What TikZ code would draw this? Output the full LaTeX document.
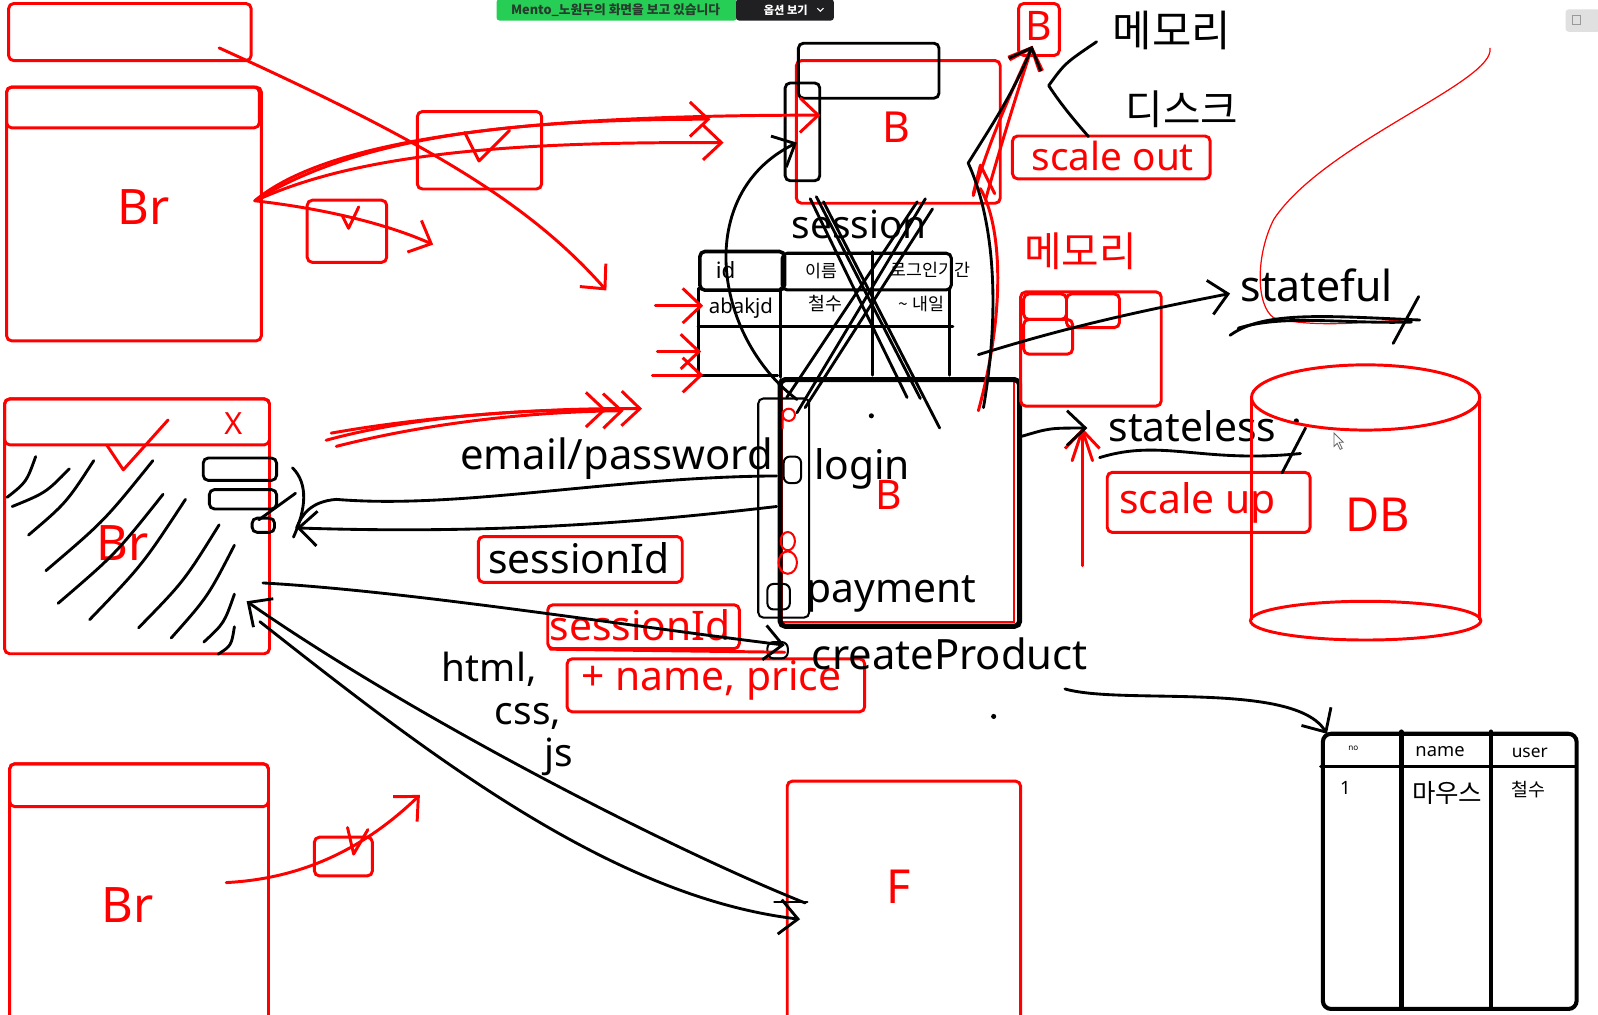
\documentclass[tikz,border=0pt]{standalone}
\usepackage{fontspec}
\setmainfont{Noto Sans}
\newfontfamily\kr{Noto Sans CJK KR}
\usetikzlibrary{arrows.meta,calc}
\newcommand\fsz[1]{\fontsize{#1}{#1}\selectfont}
\definecolor{zgreen}{RGB}{38,206,86}
\definecolor{zdark}{RGB}{32,32,34}
\tikzset{
 rb/.style={draw=red,line width=2.9pt,rounded corners=5pt,anchor=north west,inner sep=0pt},
 bb/.style={draw=black,line width=2.8pt,rounded corners=5pt,anchor=north west,inner sep=0pt},
 rpen/.style={draw=red,line width=2.9pt,line cap=round,line join=round},
 bpen/.style={draw=black,line width=2.8pt,line cap=round,line join=round},
 tip/.style={-{Straight Barb[length=18pt,width=34pt]}},
 rtxt/.style={text=red,inner sep=0pt},
 btxt/.style={text=black,inner sep=0pt},
}
\begin{document}
\begin{tikzpicture}[x=1pt,y=-1pt]
\useasboundingbox (0,0) rectangle (1568,995);
\clip (0,0) rectangle (1568,995);
\fill[white] (0,0) rectangle (1568,995);

% ---------- banner ----------
\node (ban) [fill=zgreen,rounded corners=3pt,anchor=north west,minimum width=236pt,minimum height=21pt,inner sep=0pt] at (487,-1) {};
\node (bant) [text={rgb,255:red,40;green,60;blue,45},inner sep=0pt] at (604,10) {\kr\bfseries\fsz{12.5}Mento\_노원두의 화면을 보고 있습니다};
\node (opt) [fill=zdark,rounded corners=3pt,anchor=north west,minimum width=96pt,minimum height=21pt,inner sep=0pt] at (722,-1) {};
\node (optt) [text=white,inner sep=0pt] at (771,10) {\kr\bfseries\fsz{11}옵션 보기};
\draw[white,line width=1pt] (802,8) -- (805,11) -- (808,8);
\node (icon) [fill=black!12,rounded corners=3pt,anchor=north west,minimum width=34pt,minimum height=22pt,inner sep=0pt] at (1536,9) {};
\draw[black!40,line width=1pt] (1543,15) rectangle (1551,24);

% ---------- red browser boxes ----------
\node (r1) [rb,minimum width=238pt,minimum height=56pt] at (7,2) {};
\node (br1) [rb,minimum width=250pt,minimum height=249pt] at (5,84) {};
\node (br1h) [rb,minimum width=248pt,minimum height=40pt] at (5,84) {};
\node (br1t) [rtxt] at (141,203) {\fsz{48}Br};
\node (ck1) [rb,minimum width=122pt,minimum height=76pt] at (408,108) {};
\draw[rpen] (456,130) -- (470,158) -- (500,128);
\node (ck2) [rb,minimum width=78pt,minimum height=61pt] at (300,195) {};
\draw[rpen] (336,212) -- (342,224) -- (352,203);

\node (br2) [rb,minimum width=260pt,minimum height=250pt] at (3,390) {};
\node (br2h) [rb,minimum width=260pt,minimum height=45pt] at (3,390) {};
\node (br2x) [rtxt] at (229,416) {\fsz{30}X};
\node (br2t) [rtxt] at (120,533) {\fsz{48}Br};
\draw[rpen] (105,437) -- (121,461) -- (165,412);

\node (br3) [rb,minimum width=254pt,minimum height=262pt] at (8,748) {};
\node (br3h) [rb,minimum width=254pt,minimum height=42pt] at (8,748) {};
\node (br3t) [rtxt] at (125,888) {\fsz{48}Br};
\node (ck3) [rb,minimum width=57pt,minimum height=38pt] at (307,820) {};
\draw[rpen] (341,812) -- (347,838) -- (361,814);

% hatch strokes in Br2
\foreach \a/\b/\c/\d in {7/488/35/448, 12/497/68/460, 28/525/92/452, 45/560/150/452, 57/592/160/485, 88/608/182/490, 136/616/215/515, 168/626/230/535, 200/630/230/583, 214/642/230/615}{
  \draw[bpen] (\a,\b) .. controls ($(\a,\b)!0.5!(\c,\d)+(5,5)$) .. (\c,\d);
}
% small black widgets in Br2
\node (w1) [bb,minimum width=72pt,minimum height=22pt] at (198,448) {};
\node (w2) [bb,minimum width=66pt,minimum height=19pt] at (204,479) {};
\node (w3) [bb,minimum width=22pt,minimum height=14pt] at (246,507) {};
\draw[bpen] (254,510) -- (290,484);

% ---------- B server (top) ----------
\node (bred) [rb,minimum width=200pt,minimum height=140pt] at (780,58) {};
\node (bredt) [rtxt] at (880,125) {\fsz{42}B};
\node (bt1) [bb,minimum width=138pt,minimum height=54pt] at (782,41) {};
\node (bnar) [bb,minimum width=34pt,minimum height=96pt] at (769,80) {};

\node (bsm) [rb,minimum width=40pt,minimum height=51pt] at (998,2) {};
\node (bsmt) [rtxt] at (1019,25) {\fsz{40}B};
\node (mem1) [btxt] at (1150,30) {\kr\fsz{42}메모리};
\node (disk) [btxt] at (1160,107) {\kr\fsz{40}디스크};
\node (sout) [rb,minimum width=194pt,minimum height=42pt] at (992,132) {};
\node (soutt) [rtxt] at (1092,153) {\fsz{38}scale out};
\draw[bpen] (1076,41) .. controls (1045,62) .. (1029,84) .. controls (1042,104) and (1056,120) .. (1068,134);

% ---------- session table ----------
\node (sess) [btxt] at (843,220) {\fsz{38}session};
\node (tid) [bb,line width=3.5pt,minimum width=83pt,minimum height=38pt] at (685,245) {};
\node (thd) [bb,line width=3pt,minimum width=166pt,minimum height=36pt] at (766,247) {};
\draw[bpen,line width=3pt] (685,283) -- (685,368) -- (763,368);
\draw[bpen,line width=3.5pt] (766,283) -- (766,370);
\draw[bpen,line width=3pt] (856,247) -- (856,368);
\draw[bpen,line width=3pt] (932,283) -- (932,368);
\draw[bpen,line width=3pt] (685,320) -- (935,320);
\node (c1) [btxt] at (712,265) {\fsz{22}id};
\node (c2) [btxt] at (806,266) {\kr\fsz{17}이름};
\node (c3) [btxt] at (913,265) {\kr\fsz{17}로그인기간};
\node (c4) [btxt] at (727,302) {\fsz{20}abakjd};
\node (c5) [btxt] at (810,298) {\kr\fsz{18}철수};
\node (c6) [btxt] at (904,298) {\kr\fsz{17}\textasciitilde\ 내일};

% big X
\foreach \a/\b/\c/\d in {795/195/890/390, 801/193/903/391, 808/198/922/420, 908/195/782/405, 900/198/772/390, 915/205/790/400}{
  \draw[bpen] (\a,\b) -- (\c,\d);
}

% ---------- login server ----------
\draw[red,line width=2pt] (767,373) rectangle (995,610);
\node (login) [bb,line width=5pt,minimum width=235pt,minimum height=242pt] at (763,370) {};
\node (lnar) [bb,line width=2pt,minimum width=50pt,minimum height=215pt] at (743,390) {};
\node (logint) [btxt] at (846,460) {\fsz{40}login};
\node (loginb) [rtxt] at (872,486) {\fsz{40}B};
\node (payt) [btxt] at (875,583) {\fsz{40}payment};
\node (o1) [bb,line width=2pt,rounded corners=6pt,minimum width=17pt,minimum height=26pt] at (768,447) {};
\node (o2) [bb,line width=2pt,rounded corners=6pt,minimum width=22pt,minimum height=25pt] at (752,572) {};
\draw[rpen,line width=2pt] (774,407) circle (6pt) (768,404) -- (768,420);
\draw[rpen,line width=2pt] (773,531) ellipse (7pt and 9pt) (773,552) ellipse (9pt and 11pt);
\fill (855,408) circle (2.5pt);

% ---------- memory / stateful ----------
\node (mem2) [rtxt] at (1060,247) {\kr\fsz{40}메모리};
\node (mbox) [rb,minimum width=138pt,minimum height=112pt] at (1000,285) {};
\node (m1) [rb,minimum width=42pt,minimum height=25pt] at (1003,287) {};
\node (m2) [rb,minimum width=52pt,minimum height=33pt] at (1045,287) {};
\node (m3) [rb,minimum width=48pt,minimum height=34pt] at (1003,312) {};
\node (sful) [btxt] at (1292,280) {\fsz{42}stateful};
\node (sless) [btxt] at (1170,418) {\fsz{40}stateless};
\node (sup) [rb,minimum width=199pt,minimum height=59pt] at (1085,462) {};
\node (supt) [rtxt] at (1175,493) {\fsz{40}scale up};

% thin red curve
\draw[red,line width=1.2pt] (1462,47) .. controls (1468,80) and (1300,140) .. (1250,215) .. controls (1232,250) and (1232,300) .. (1250,312) .. controls (1290,322) and (1340,316) .. (1376,314);
% scribbles
\draw[bpen] (1207,329) .. controls (1240,305) and (1300,310) .. (1393,314);
\draw[bpen] (1215,322) .. controls (1260,308) and (1320,318) .. (1385,316);
\draw[bpen] (1392,291) -- (1367,337);
\draw[bpen] (1079,449) .. controls (1140,430) and (1180,455) .. (1276,445);
\draw[bpen] (1281,420) -- (1258,464);
\fill (1272,413) circle (2.5pt);
\draw[black!60,fill=white,line width=0.8pt] (1309,425) -- (1309,438) -- (1312,435) -- (1315,441) -- (1317,440) -- (1314,434) -- (1318,434) -- cycle;

% ---------- DB ----------
\draw[red,line width=2.9pt] (1228,390) -- (1228,608) (1452,390) -- (1452,608);
\draw[red,line width=2.9pt] (1340,390) ellipse (112pt and 32pt);
\draw[red,line width=2.9pt] (1340,609) ellipse (113pt and 19pt);
\node (dbt) [rtxt] at (1352,505) {\fsz{46}DB};

% ---------- messages ----------
\node (email) [btxt] at (605,450) {\fsz{41}email/password};
\node (sid1) [rb,minimum width=200pt,minimum height=45pt] at (468,525) {};
\node (sid1t) [btxt] at (568,548) {\fsz{40}sessionId};
\node (sid2) [rb,minimum width=188pt,minimum height=43pt] at (536,592) {};
\node (sid2t) [rtxt] at (628,613) {\fsz{40}sessionId};
\node (np) [rb,minimum width=292pt,minimum height=52pt] at (555,645) {};
\node (npt) [rtxt] at (698,668) {\fsz{40}+ name, price};
\node (cp) [btxt] at (932,642) {\fsz{41}createProduct};
\node (ocp) [bb,line width=2pt,rounded corners=6pt,minimum width=20pt,minimum height=16pt] at (752,629) {};
\node (html) [btxt] at (480,657) {\fsz{38}html,};
\node (css) [btxt] at (518,703) {\fsz{38}css,};
\node (js) [btxt] at (548,743) {\fsz{38}js};
\fill (975,703) circle (2.5pt);

% ---------- F ----------
\node (F) [rb,minimum width=229pt,minimum height=245pt] at (771,765) {};
\node (Ft) [rtxt] at (882,870) {\fsz{46}F};

% ---------- product table ----------
\node (pt) [bb,line width=4pt,rounded corners=8pt,minimum width=249pt,minimum height=270pt] at (1296,718) {};
\draw[bpen,line width=3.5pt] (1296,752) -- (1545,752);
\draw[bpen,line width=4.5pt] (1375,718) -- (1375,988);
\draw[bpen,line width=4.5pt] (1463,718) -- (1463,988);
\node (p1) [btxt] at (1328,734) {\fsz{8}no};
\node (p2) [btxt] at (1413,737) {\fsz{18}name};
\node (p3) [btxt] at (1501,739) {\fsz{17}user};
\node (p4) [btxt] at (1320,773) {\fsz{18}1};
\node (p5) [btxt] at (1420,778) {\kr\fsz{25}마우스};
\node (p6) [btxt] at (1500,775) {\kr\fsz{18}철수};

% ---------- coordinates for connector ends ----------
\coordinate (tl) at (215,47);
\coordinate (tlend) at (595,285);
\coordinate (b1s) at (250,197);
\coordinate (a1e) at (805,113);
\coordinate (a2e) at (697,117);
\coordinate (a3e) at (710,140);
\coordinate (a4e) at (425,240);
\coordinate (ta1) at (690,300);
\coordinate (ta2) at (688,345);
\coordinate (ta3) at (690,368);
\coordinate (mr1) at (595,402);
\coordinate (mr2) at (612,403);
\coordinate (mr3) at (630,401);
\coordinate (b3s) at (222,866);
\coordinate (b3e) at (412,780);
\coordinate (lgtop) at (965,400);
\coordinate (bsmb) at (1013,45);
\coordinate (upS) at (1062,555);
\coordinate (upE) at (1062,420);
\coordinate (lgl) at (782,392);
\coordinate (bnarp) at (782,140);
\coordinate (em1) at (762,467);
\coordinate (em2) at (762,497);
\coordinate (br2r) at (291,518);
\coordinate (br2c) at (258,572);
\coordinate (cpin) at (770,633);
\coordinate (br2a) at (242,590);
\coordinate (br2b) at (255,610);
\coordinate (Fa) at (790,886);
\coordinate (Fb) at (785,902);
\coordinate (lgm) at (960,348);
\coordinate (sfin) at (1207,288);
\coordinate (lgr) at (1003,428);
\coordinate (slin) at (1067,420);
\coordinate (cpo) at (1045,676);
\coordinate (ptin) at (1302,720);

% ---------- red connectors ----------
\draw[rpen,tip] (tl) .. controls (420,140) and (520,200) .. (tlend);
\draw[rpen,tip] (b1s) .. controls (330,130) and (550,113) .. (a1e);
\draw[rpen,tip] (b1s) .. controls (350,135) and (500,117) .. (a2e);
\draw[rpen,tip] ($(b1s)+(5,-2)$) .. controls (360,148) and (520,139) .. (a3e);
\draw[rpen,tip] (b1s) .. controls (320,205) and (380,220) .. (a4e);
\draw[rpen,tip] (643,300) -- (ta1);
\draw[rpen,tip] (645,345) -- (ta2);
\draw[rpen,tip] (640,368) -- (ta3);
\draw[rpen,tip] (320,432) .. controls (400,410) and (500,402) .. (mr1);
\draw[rpen,tip] (330,438) .. controls (420,415) and (520,404) .. (mr2);
\draw[rpen,tip] (325,425) .. controls (420,408) and (540,400) .. (mr3);
\draw[rpen,tip] (b3s) .. controls (300,862) and (360,830) .. (b3e);
\draw[rpen] (960,403) .. controls (988,300) and (982,220) .. (962,185);
\draw[rpen,tip] (955,192) .. controls (970,140) and (990,95) .. (bsmb);
\draw[rpen,tip] (967,196) .. controls (980,150) and (995,100) .. (bsmb);
\draw[rpen] (955,190) -- (962,162) -- (976,190);
\draw[rpen,tip] (upS) -- (upE);
\draw[rpen] (1052,452) -- (1062,422) -- (1072,452);
\draw[rpen] (540,637) -- (770,640);

% ---------- black connectors ----------
\draw[bpen,tip] (lgl) .. controls (700,330) and (680,190) .. (bnarp);
\draw[bpen,tip] (lgtop) .. controls (982,300) and (975,215) .. (950,160) .. controls (975,120) and (995,90) .. (bsmb);
\draw[bpen] (em1) .. controls (600,468) and (450,500) .. (330,490) .. controls (305,492) and (296,505) .. (br2r);
\draw[bpen,tip] (em2) .. controls (650,510) and (500,525) .. (br2r);
\draw[bpen] (287,459) .. controls (303,475) and (300,500) .. (288,527);
\draw[bpen,tip] (br2c) .. controls (400,580) and (600,612) .. (cpin);
\draw[bpen,tip] (Fa) .. controls (650,830) and (400,700) .. (br2a);
\draw[bpen,tip] (br2b) .. controls (420,740) and (600,880) .. (Fb);
\draw[bpen] (760,885) -- (792,885);
\draw[bpen,tip] (lgm) .. controls (1050,320) and (1120,305) .. (sfin);
\draw[bpen,tip] (lgr) .. controls (1030,420) .. (slin);
\draw[bpen,tip] (cpo) .. controls (1100,692) and (1270,668) .. (ptin);

\end{tikzpicture}
\end{document}
